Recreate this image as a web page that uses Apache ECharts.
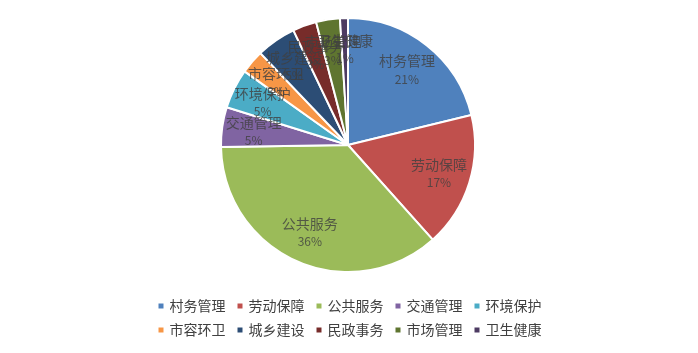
<!DOCTYPE html>
<html>
<head>
<meta charset="utf-8">
<script src="https://cdn.jsdelivr.net/npm/echarts@6/dist/echarts.min.js"></script>
<style>
  html, body { margin: 0; padding: 0; background: #fff; }
  #chart { width: 698px; height: 353px; }
</style>
</head>
<body>
<div id="chart"></div>
<script>
// 各类事项占比
const names = ['村务管理', '劳动保障', '公共服务', '交通管理', '环境保护', '市容环卫', '城乡建设', '民政事务', '市场管理', '卫生健康']
const values = [21, 17, 36, 5, 5, 3, 5, 3, 3, 1]
const colors = ['#4F81BD', '#C0504D', '#9BBB59', '#8064A2', '#4BACC6', '#F79646', '#2C4D75', '#772C2A', '#5F7530', '#4D3B62']

const font = '"Noto Sans CJK SC", "Noto Sans", sans-serif'
const textColor = '#404040'

const chart = echarts.init(document.getElementById('chart'))

const total = values.reduce((a, b) => a + b, 0)
const pieData = names.map((name, i) => ({ name, value: values[i] }))

// 标签放在每块扇形的角度中线上（极坐标），半径取 0.75 倍
const labelData = []
let acc = 0
values.forEach((v, i) => {
  labelData.push({ name: names[i], value: [0.75, acc + v / 2], pct: Math.round(v / total * 100) })
  acc += v
})

const option = {
  color: colors,
  animation: false,
  polar: {
    center: [348, 145],
    radius: 127
  },
  angleAxis: {
    type: 'value',
    min: 0,
    max: total,
    startAngle: 90,
    clockwise: true,
    show: false
  },
  radiusAxis: {
    type: 'value',
    min: 0,
    max: 1,
    show: false
  },
  legend: {
    data: names,
    top: 294,
    left: 'center',
    width: 420,
    itemWidth: 7,
    itemHeight: 7,
    itemGap: 10,
    icon: 'rect',
    textStyle: {
      fontFamily: font,
      fontSize: 14,
      color: textColor
    }
  },
  series: [
    {
      type: 'pie',
      center: [348, 145],
      radius: [0, 127],
      startAngle: 90,
      clockwise: true,
      silent: true,
      itemStyle: {
        borderColor: '#fff',
        borderWidth: 2
      },
      label: { show: false },
      labelLine: { show: false },
      data: pieData
    },
    {
      // 只画标签
      type: 'scatter',
      coordinateSystem: 'polar',
      symbolSize: 0,
      silent: true,
      z: 10,
      label: {
        show: true,
        position: 'inside',
        formatter: p => '{n|' + p.name + '}\n{p|' + p.data.pct + '%}',
        rich: {
          n: { fontFamily: font, fontSize: 14, color: textColor, lineHeight: 18 },
          p: { fontFamily: font, fontSize: 12, color: textColor, lineHeight: 18 }
        }
      },
      labelLayout: { hideOverlap: false },
      data: labelData
    }
  ]
}

chart.setOption(option)
</script>
</body>
</html>
